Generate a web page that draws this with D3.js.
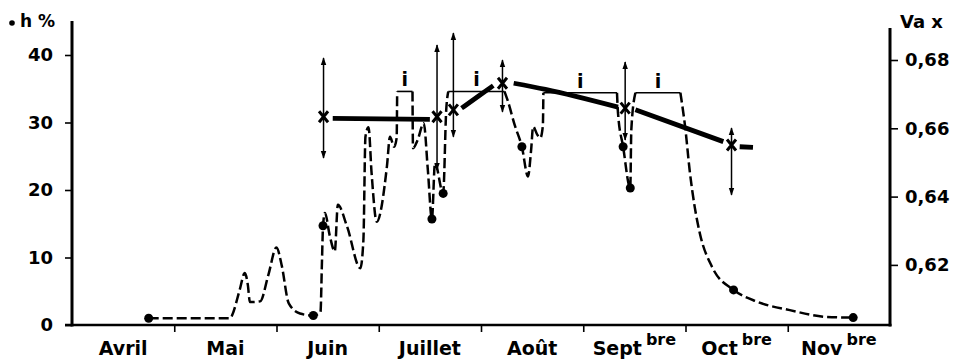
<!DOCTYPE html>
<html>
<head>
<meta charset="utf-8">
<title>h % et Va x</title>
<script src="https://cdn.jsdelivr.net/npm/d3@7"></script>
<style>
    body { margin: 0; background: #fff; }
    #chart { width: 956px; height: 362px; }
    text { font-family: "DejaVu Sans", sans-serif; font-weight: bold; fill: #000; }
</style>
</head>
<body>
<div id="chart"></div>
<script>

// months on the x axis, 4 = 1er avril ... 12 = 1er decembre
var months = ["Avril", "Mai", "Juin", "Juillet", "Août", "Sept", "Oct", "Nov"];
var monthSup = ["", "", "", "", "", "bre", "bre", "bre"];
var hTicks = [0, 10, 20, 30, 40];
var vaTicks = [0.62, 0.64, 0.66, 0.68];

// dashed curve h %  [month, h]
var hCurve = [
    [4.75, 1.0], [5.55, 1.0], [5.57, 1.6], [5.64, 5.2], [5.69, 7.7], [5.72, 5.9],
    [5.74, 3.4], [5.84, 3.5], [5.92, 7.4], [6.00, 11.5], [6.05, 8.9], [6.12, 3.2],
    [6.23, 1.7], [6.36, 1.4], [6.43, 1.9], [6.445, 9.6], [6.455, 14.7], [6.474, 16.6],
    [6.52, 13.3], [6.57, 10.9], [6.60, 17.8], [6.69, 14.6], [6.82, 8.4], [6.85, 12.6],
    [6.87, 27.9], [6.90, 29.3], [6.93, 22.5], [6.98, 15.3], [7.08, 23.5], [7.11, 27.9],
    [7.15, 26.4], [7.175, 27.7], [7.18, 34.6], [7.33, 34.6], [7.335, 26.2], [7.38, 27.4],
    [7.44, 29.9], [7.48, 23.0], [7.52, 15.7], [7.55, 24.0], [7.63, 19.5], [7.66, 31.9],
    [7.68, 34.6], [8.23, 34.6], [8.26, 33.3], [8.33, 29.6], [8.40, 26.4], [8.46, 22.0],
    [8.49, 25.9], [8.51, 29.4], [8.55, 28.2], [8.58, 27.7], [8.605, 29.5], [8.61, 34.4],
    [9.33, 34.4], [9.34, 31.4], [9.39, 26.4], [9.46, 20.3], [9.47, 28.9], [9.51, 34.4],
    [9.95, 34.4], [10.00, 28.9], [10.04, 23.0], [10.09, 17.5], [10.14, 13.6], [10.26, 8.6],
    [10.47, 5.2], [10.70, 3.45], [11.02, 2.2], [11.38, 1.2], [11.64, 1.1]
];

// measured h % (dots)
var hDots = [
    [4.75, 1.0], [6.36, 1.4], [6.455, 14.7], [7.52, 15.7], [7.63, 19.5],
    [8.40, 26.4], [9.39, 26.4], [9.46, 20.3], [10.47, 5.2], [11.64, 1.1]
];

// irrigation periods "i"
var irrigation = [[7.18, 7.33], [7.68, 8.23], [8.61, 9.33], [9.51, 9.95]];
var irrigationLevel = [34.6, 34.6, 34.4, 34.4];

// Va x with range
var vaMonth = [6.46, 7.57, 7.73, 8.21, 9.41, 10.45];
var vaValue = [0.6634, 0.6634, 0.6654, 0.6732, 0.6659, 0.6551];
var vaLow = [0.6513, 0.6478, 0.6575, 0.6648, 0.6566, 0.6405];
var vaHigh = [0.6806, 0.6844, 0.6879, 0.6800, 0.6794, 0.6601];

// thick trend line of Va x (null = break)
var vaTrend = [
    [6.55, 0.6629], [7.50, 0.6626], null,
    [7.81, 0.6659], [7.97, 0.6693], [8.12, 0.6725], null,
    [8.32, 0.6732], [8.63, 0.6714], [9.34, 0.6662], null,
    [9.51, 0.6654], [10.37, 0.6561], null,
    [10.53, 0.6546], [10.66, 0.6544]
];

var width = 956;
var height = 362;

var svg = d3.select("#chart")
    .append("svg")
    .attr("width", width)
    .attr("height", height);

var x = d3.scaleLinear().domain([4, 12]).range([72, 890]);
var yH = d3.scaleLinear().domain([0, 40]).range([325, 55]);
var yV = d3.scaleLinear().domain([0.60, 0.68]).range([333.2, 60]);

var defs = svg.append("defs");
defs.append("marker")
    .attr("id", "arrow")
    .attr("viewBox", "0 0 10 10")
    .attr("refX", 9)
    .attr("refY", 5)
    .attr("markerWidth", 8)
    .attr("markerHeight", 8)
    .attr("markerUnits", "userSpaceOnUse")
    .attr("orient", "auto-start-reverse")
    .append("path")
        .attr("d", "M0,1.5 L10,5 L0,8.5 Z")
        .attr("fill", "#000");

// axes
var gLeft = svg.append("g")
    .attr("transform", "translate(72,0)")
    .call(d3.axisLeft(yH).tickValues(hTicks).tickSize(7).tickPadding(12));

var gRight = svg.append("g")
    .attr("transform", "translate(890,0)")
    .call(d3.axisRight(yV).tickValues(vaTicks).tickSize(8).tickPadding(7)
        .tickFormat(function(d) { return d.toFixed(2).replace(".", ","); }));

var gBottom = svg.append("g")
    .attr("transform", "translate(0,325)")
    .call(d3.axisBottom(x).tickValues([5, 6, 7, 8, 9, 10, 11]).tickSize(7).tickFormat(""));

[gLeft, gRight, gBottom].forEach(function(g) {
    g.select(".domain").remove();
    g.selectAll(".tick line").attr("stroke-width", 1.6);
    g.selectAll("text")
        .attr("font-size", 18)
        .attr("font-family", "DejaVu Sans, sans-serif");
});

svg.append("line")
    .attr("x1", 72).attr("x2", 72).attr("y1", 21).attr("y2", 326.5)
    .attr("stroke", "#000").attr("stroke-width", 3);
svg.append("line")
    .attr("x1", 890).attr("x2", 890).attr("y1", 28).attr("y2", 326.5)
    .attr("stroke", "#000").attr("stroke-width", 3);
svg.append("line")
    .attr("x1", 65).attr("x2", 891.5).attr("y1", 325).attr("y2", 325)
    .attr("stroke", "#000").attr("stroke-width", 2.6);

// month labels
var labels = svg.selectAll(".month")
    .data(months)
    .enter()
    .append("text")
        .attr("class", "month")
        .attr("x", function(d, i) { return x(4 + i + 0.5); })
        .attr("y", 355)
        .attr("text-anchor", "middle")
        .attr("font-size", 19)
        .text(function(d) { return d; });

labels.filter(function(d, i) { return monthSup[i] != ""; })
    .append("tspan")
        .attr("dx", 4)
        .attr("dy", -10)
        .attr("font-size", 16)
        .text(function(d) { return monthSup[months.indexOf(d)]; });

// axis titles
svg.append("circle")
    .attr("cx", 12).attr("cy", 23).attr("r", 2.8).attr("fill", "#000");
svg.append("text")
    .attr("x", 20).attr("y", 27)
    .attr("font-size", 17)
    .text("h %");
svg.append("text")
    .attr("x", 900).attr("y", 28)
    .attr("font-size", 18)
    .text("Va x");

// dashed h curve, broken under each irrigation bracket
var pieces = [[]];
hCurve.forEach(function(d) {
    pieces[pieces.length - 1].push(d);
    var isStart = irrigation.some(function(p) { return p[0] === d[0]; });
    if (isStart) pieces.push([]);
});

var hLine = d3.line()
    .x(function(d) { return x(d[0]); })
    .y(function(d) { return yH(d[1]); })
    .curve(d3.curveMonotoneX);

svg.selectAll(".hpiece")
    .data(pieces)
    .enter()
    .append("path")
        .attr("class", "hpiece")
        .attr("d", hLine)
        .attr("fill", "none")
        .attr("stroke", "#000")
        .attr("stroke-width", 2.5)
        .attr("stroke-dasharray", "10,4");

// irrigation brackets
svg.selectAll(".irr")
    .data(irrigation)
    .enter()
    .append("line")
        .attr("class", "irr")
        .attr("x1", function(d) { return x(d[0]); })
        .attr("x2", function(d) { return x(d[1]); })
        .attr("y1", function(d, i) { return yH(irrigationLevel[i]); })
        .attr("y2", function(d, i) { return yH(irrigationLevel[i]); })
        .attr("stroke", "#000")
        .attr("stroke-width", 1.6);

svg.selectAll(".irrLabel")
    .data(irrigation)
    .enter()
    .append("text")
        .attr("class", "irrLabel")
        .attr("x", function(d) { return x((d[0] + d[1]) / 2); })
        .attr("y", function(d, i) { return yH(irrigationLevel[i]) - 5; })
        .attr("text-anchor", "middle")
        .attr("font-size", 19)
        .text("i");

svg.selectAll(".hdot")
    .data(hDots)
    .enter()
    .append("circle")
        .attr("class", "hdot")
        .attr("cx", function(d) { return x(d[0]); })
        .attr("cy", function(d) { return yH(d[1]); })
        .attr("r", 4.5)
        .attr("fill", "#000");

// Va trend
var vaLine = d3.line()
    .defined(function(d) { return d !== null; })
    .x(function(d) { return x(d[0]); })
    .y(function(d) { return yV(d[1]); })
    .curve(d3.curveMonotoneX);

svg.append("path")
    .datum(vaTrend)
    .attr("d", vaLine)
    .attr("fill", "none")
    .attr("stroke", "#000")
    .attr("stroke-width", 4.8);

// ranges with arrows
svg.selectAll(".range")
    .data(vaMonth)
    .enter()
    .append("line")
        .attr("class", "range")
        .attr("x1", function(d) { return x(d); })
        .attr("x2", function(d) { return x(d); })
        .attr("y1", function(d, i) { return yV(vaValue[i]); })
        .attr("y2", function(d, i) { return yV(vaHigh[i]); })
        .attr("stroke", "#000")
        .attr("stroke-width", 1.5)
        .attr("marker-end", "url(#arrow)");

svg.selectAll(".rangeLow")
    .data(vaMonth)
    .enter()
    .append("line")
        .attr("class", "rangeLow")
        .attr("x1", function(d) { return x(d); })
        .attr("x2", function(d) { return x(d); })
        .attr("y1", function(d, i) { return yV(vaValue[i]); })
        .attr("y2", function(d, i) { return yV(vaLow[i]); })
        .attr("stroke", "#000")
        .attr("stroke-width", 1.5)
        .attr("marker-end", "url(#arrow)");

svg.selectAll(".vx")
    .data(vaMonth)
    .enter()
    .append("path")
        .attr("class", "vx")
        .attr("transform", function(d, i) { return "translate(" + x(d) + "," + yV(vaValue[i]) + ")"; })
        .attr("d", "M-4.5,-5.5 L4.5,5.5 M4.5,-5.5 L-4.5,5.5")
        .attr("fill", "none")
        .attr("stroke", "#000")
        .attr("stroke-width", 3);

</script>
</body>
</html>
